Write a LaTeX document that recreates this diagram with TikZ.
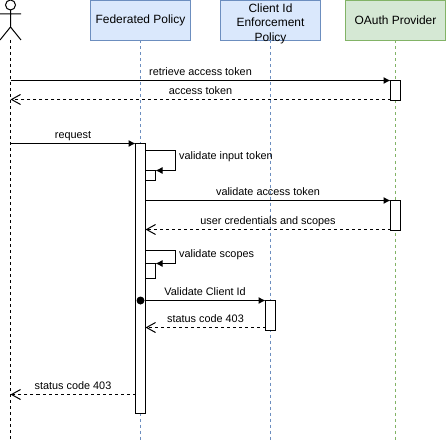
\documentclass[tikz,border=0pt]{standalone}
\usepackage{fontspec}
\setmainfont{Liberation Sans}
\usetikzlibrary{positioning,arrows.meta}
\definecolor{blueline}{HTML}{6C8EBF}
\definecolor{bluefill}{HTML}{DAE8FC}
\definecolor{greenline}{HTML}{82B366}
\definecolor{greenfill}{HTML}{D5E8D4}
\tikzstyle{bluenode}=[rectangle, draw=blueline, fill=bluefill, line width=1bp, minimum width=100bp, minimum height=40bp, inner sep=0pt, outer sep=0pt, align=center, font=\fontsize{12}{14.5}\selectfont]
\tikzstyle{greennode}=[bluenode, draw=greenline, fill=greenfill]
\tikzstyle{barnode}=[rectangle, draw=black, fill=white, line width=1bp, minimum width=10bp, inner sep=0pt, outer sep=0pt, anchor=north]
\tikzstyle{lifeline}=[dash pattern=on 3bp off 3bp, line width=1bp]
\tikzstyle{call}=[-{Latex[length=7bp,width=7bp]}, line width=1bp]
\tikzstyle{reply}=[-{Straight Barb[length=9bp,width=10bp]}, dash pattern=on 3bp off 3bp, line width=1bp]
\tikzstyle{msg}=[font=\fontsize{10.9}{12}\selectfont, inner sep=0pt, text depth=0pt]

\begin{document}
\begin{tikzpicture}[x=1bp,y=-1bp]
\useasboundingbox (0,0) rectangle (446,441);
%Nodes
\node[bluenode]   (fed)                     at (140.5,20.5)  {Federated Policy};
\node[bluenode, label={[align=center, inner sep=0pt, yshift=-3bp, font=\fontsize{12}{14.5}\selectfont]center:Client Id\\Enforcement\\Policy}] (client) [right=30bp of fed] {};
\node[greennode]  (oauth)  [right=25bp of client]          {OAuth Provider};
\coordinate (user) at (10.5,40);
\coordinate (userend) at (10.5,441);
\coordinate (fedend) at (fed |- userend);
\coordinate (clientend) at (client |- userend);
\coordinate (oauthend) at (oauth |- userend);
%Lifelines
\draw[lifeline, draw=black]      (user)          -- (userend);
\draw[lifeline, draw=blueline]   (fed.south)     -- (fedend);
\draw[lifeline, draw=blueline]   (client.south)  -- (clientend);
\draw[lifeline, draw=greenline]  (oauth.south)   -- (oauthend);
%Actor
\draw[line width=1bp] (10.5,5) circle (5bp);
\draw[line width=1bp] (10.5,10) -- (10.5,27) (0,14) -- (21,14) (0,40) -- (10.5,27) -- (21,40);
%Bars
\node[barnode, minimum height=20bp]  (oauthbara) at (395.5,80.5)  {};
\node[barnode, minimum height=270bp] (fedbar)    at (140.5,143.5) {};
\node[barnode, minimum height=10bp]  (selfbara)  at (150.5,170.5) {};
\node[barnode, minimum height=30bp]  (oauthbarb) at (395.5,200.5) {};
\node[barnode, minimum height=14.5bp] (selfbarb) at (150.5,263.5) {};
\node[barnode, minimum height=30bp]  (clientbar) at (270.5,300.5) {};
\node[circle, fill=black, minimum size=8bp, inner sep=0pt] (feddot) at (140.5,300.5) {};
%Ends
\coordinate (ua) at (10.5,80.5);
\coordinate (ub) at (10.5,99.5);
\coordinate (uc) at (10.5,143.5);
\coordinate (ud) at (10.5,394.5);
\coordinate (oa) at (390.5,99.5);
\coordinate (ob) at (390.5,229.5);
\coordinate (fa) at (145.5,150.5);
\coordinate (fb) at (145.5,200.5);
\coordinate (fc) at (145.5,229.5);
\coordinate (fd) at (145.5,250.5);
\coordinate (fe) at (145.5,327.5);
\coordinate (ff) at (135.5,394.5);
\coordinate (ca) at (265.5,327.5);
%Lines
\draw[call]  (ua) -- node[msg, above=4.2bp] (retrieve) {retrieve access token} (oauthbara.north west);
\draw[reply] (oa) -- node[msg, above=4.2bp] (token) {access token} (ub);
\draw[call]  (uc) -- node[msg, above=4.2bp] (request) {request} (fedbar.north west);
\draw[call]  (fa) -- (175.5,150.5) -- (175.5,170.5) -- (selfbara.north east);
\draw[call]  (fb) -- node[msg, above=4.2bp] (access) {validate access token} (oauthbarb.north west);
\draw[reply] (ob) -- node[msg, above=4.2bp] (creds) {user credentials and scopes} (fc);
\draw[call]  (fd) -- (175.5,250.5) -- (175.5,263.5) -- (selfbarb.north east);
\draw[call]  (feddot) -- node[msg, above=4.2bp] (validate) {Validate Client Id} (clientbar.north west);
\draw[reply] (ca) -- node[msg, above=4.2bp] (statusa) {status code 403} (fe);
\draw[reply] (ff) -- node[msg, above=4.2bp] (statusb) {status code 403} (ud);
\node[msg, anchor=base west] (input)  at (179,160) {validate input token};
\node[msg, anchor=base west] (scopes) at (179,257) {validate scopes};
\end{tikzpicture}
\end{document}
